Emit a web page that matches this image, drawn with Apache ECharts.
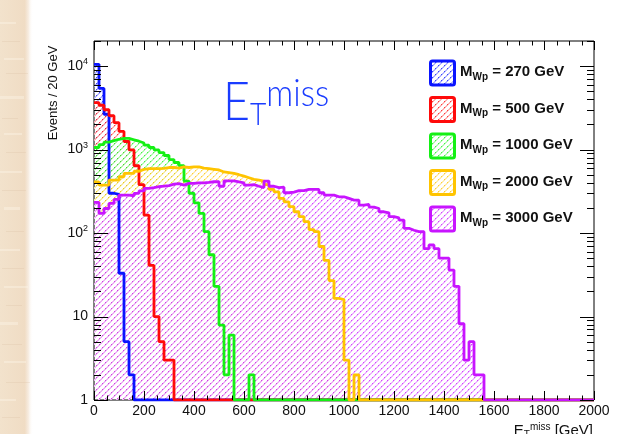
<!DOCTYPE html>
<html>
<head>
<meta charset="utf-8">
<script src="https://cdn.jsdelivr.net/npm/echarts@6/dist/echarts.min.js"></script>
<style>
html, body { margin: 0; padding: 0; background: #fff; }
#chart { width: 643px; height: 434px; }
</style>
</head>
<body>
<div id="chart"></div>
<script>
// Missing transverse energy spectra for several W' masses, 20 GeV bins from 0 GeV.
// Bins past the end of each list are empty.
const binWidth = 20;
const xMax = 2000;
const massLabels = ['270', '500', '1000', '2000', '3000'];
const lineColors = ['#0a14ff', '#ff0a0a', '#14f014', '#ffc400', '#c814ff'];

const histM270 = [10500, 5400, 2650, 300, 290, 33, 5, 2];
const histM500 = [3650, 3400, 3000, 2550, 2100, 1650, 1250, 990, 640, 380, 164, 41, 10, 5, 3, 3];
const histM1000 = [1060, 1150, 1230, 1280, 1330, 1360, 1360, 1310, 1260, 1200,
                   1130, 1060, 990, 920, 850, 760, 700, 640, 420, 300,
                   230, 172, 104, 55, 23, 7.9, 2, 6, 0, 0,
                   0, 2];
const histM2000 = [410, 376, 376, 431, 431, 473, 518, 518, 550, 580,
                   590, 590, 590, 595, 610, 610, 600, 620, 610, 620,
                   620, 600, 590, 580, 570, 540, 530, 520, 500, 480,
                   460, 440, 430, 420, 380, 333, 312, 260, 237, 207,
                   180, 157, 137, 110, 104, 69, 47, 27, 16.5, 16,
                   3, 0, 2];
const histM3000 = [233, 172, 197, 227, 253, 285, 285, 280, 299, 320,
                   343, 350, 360, 365, 370, 385, 390, 376, 394, 394,
                   400, 400, 405, 412, 412, 364, 422, 422, 410, 400,
                   376, 380, 364, 351, 420, 364, 350, 355, 304, 310,
                   322, 322, 333, 333, 333, 304, 285, 285, 272, 272,
                   260, 248, 248, 216, 220, 205, 197, 180, 175, 157,
                   152, 143, 114, 108, 104, 104, 65, 72, 65, 50,
                   50, 36, 23, 8.2, 3, 5, 2, 2];

const histograms = [histM270, histM500, histM1000, histM2000, histM3000];

const yMin = 1;
const yMax = 20000;
const xTickMajor = 200;
const xTickMinor = 50;

// Diagonal dotted hatch tile ("/" stripes): light stripe pixels with full-colour dots.
// Every histogram uses the same stripe positions, so the last one drawn shows on top.
function hexToRgb(hex) {
  const n = parseInt(hex.slice(1), 16);
  return [(n >> 16) & 255, (n >> 8) & 255, n & 255];
}
function tint(rgb, f) {
  return rgb.map(v => Math.round(255 - (255 - v) * f));
}
function hatchTile(color) {
  const N = 6;
  const c = document.createElement('canvas');
  c.width = N; c.height = N;
  const g = c.getContext('2d');
  const img = g.createImageData(N, N);
  const rgb = hexToRgb(color);
  const light = tint(rgb, 0.36);
  const dot = tint(rgb, 0.9);
  for (let y = 0; y < N; y++) {
    for (let x = 0; x < N; x++) {
      const d = (x + y) % N;
      let px = null;
      if (d === N - 1) px = (x % 3 === 0) ? dot : light;
      else if (d === 0) px = light;
      if (px) {
        const o = (y * N + x) * 4;
        img.data[o] = px[0]; img.data[o + 1] = px[1]; img.data[o + 2] = px[2]; img.data[o + 3] = 225;
      }
    }
  }
  g.putImageData(img, 0, 0);
  return { image: c, repeat: 'repeat' };
}

// Step outline points: each bin's left edge, plus the closing point at xMax
function stepPoints(counts) {
  const pts = [];
  const nBins = xMax / binWidth;
  for (let b = 0; b < nBins; b++) {
    const v = b < counts.length ? counts[b] : 0;
    pts.push([b * binWidth, Math.max(v, yMin)]);
  }
  pts.push([xMax, pts[pts.length - 1][1]]);
  return pts;
}

// Hatched fills first, then all outlines above every fill
const fillSeries = histograms.map((counts, i) => ({
  type: 'line',
  name: 'fill' + massLabels[i],
  data: stepPoints(counts),
  step: 'end',
  showSymbol: false,
  symbol: 'none',
  silent: true,
  clip: true,
  lineStyle: { width: 0, opacity: 0 },
  areaStyle: { color: hatchTile(lineColors[i]), origin: 'start', opacity: 1 },
  z: 2 + i
}));
const outlineSeries = histograms.map((counts, i) => ({
  type: 'line',
  name: 'M' + massLabels[i],
  data: stepPoints(counts),
  step: 'end',
  showSymbol: false,
  symbol: 'none',
  silent: true,
  clip: true,
  lineStyle: { color: lineColors[i], width: 2.8 },
  z: 10 + i
}));

// Tick marks drawn inside the frame on all four sides
const yTickValues = [];
for (let k = 0; k <= 4; k++) {
  for (let m = 1; m <= 9; m++) {
    const v = m * Math.pow(10, k);
    if (v <= yMax) yTickValues.push([v, m === 1]);
  }
}
const xTickValues = [];
for (let x = 0; x <= xMax; x += xTickMinor) xTickValues.push([x, x % xTickMajor === 0]);

const tickSeries = {
  type: 'custom',
  silent: true,
  clip: false,
  z: 20,
  data: [[0, 1]],
  renderItem: function (params, api) {
    const children = [];
    const st = { stroke: '#000', lineWidth: 1 };
    const yBottom = api.coord([0, yMin])[1];
    const yTop = api.coord([0, yMax])[1];
    const xLeft = api.coord([0, yMin])[0];
    const xRight = api.coord([xMax, yMin])[0];
    xTickValues.forEach(([x, major]) => {
      const px = Math.round(api.coord([x, yMin])[0]) + 0.5;
      const len = major ? 9 : 4.5;
      children.push({ type: 'line', shape: { x1: px, y1: yBottom, x2: px, y2: yBottom - len }, style: st });
      children.push({ type: 'line', shape: { x1: px, y1: yTop, x2: px, y2: yTop + len }, style: st });
    });
    yTickValues.forEach(([v, major]) => {
      const py = Math.round(api.coord([0, v])[1]) + 0.5;
      const len = major ? 14 : 7;
      children.push({ type: 'line', shape: { x1: xLeft, y1: py, x2: xLeft + len, y2: py }, style: st });
      children.push({ type: 'line', shape: { x1: xRight, y1: py, x2: xRight - len, y2: py }, style: st });
    });
    return { type: 'group', children: children };
  }
};

const chart = echarts.init(document.getElementById('chart'), null, { renderer: 'canvas' });

const legendTop = 61;
const legendStep = 36.5;
const legendGraphics = [];
massLabels.forEach((m, i) => {
  const y = legendTop + i * legendStep;
  legendGraphics.push({
    type: 'rect',
    shape: { x: 430.5, y: y, width: 24, height: 24, r: 2 },
    style: { fill: hatchTile(lineColors[i]), stroke: lineColors[i], lineWidth: 3 },
    z: 30
  });
  legendGraphics.push({
    type: 'text',
    x: 460, y: y + 11,
    style: {
      text: '{a|M}{b|Wp}{a| = ' + m + ' GeV}',
      verticalAlign: 'middle',
      rich: {
        a: { fontSize: 15, fontWeight: 'bold', fontFamily: 'Liberation Sans', fill: '#111', lineHeight: 20 },
        b: { fontSize: 10, fontWeight: 'bold', fontFamily: 'Liberation Sans', fill: '#111', lineHeight: 11, verticalAlign: 'bottom' }
      }
    },
    z: 30
  });
});

// Paper strip along the left margin
const paperStreaks = [
  [22, 2, 0], [41, 1, 1], [58, 2, 0], [73, 1, 1], [96, 3, 0], [118, 1, 1], [133, 2, 0],
  [152, 1, 1], [171, 2, 0], [190, 1, 1], [207, 3, 0], [231, 1, 1], [249, 2, 0], [268, 1, 1],
  [286, 2, 0], [305, 1, 1], [322, 3, 0], [344, 1, 1], [361, 2, 0], [382, 1, 1], [399, 2, 0], [417, 1, 1]
];
const paperGraphics = [
  {
    type: 'rect', shape: { x: 0, y: 0, width: 33, height: 434 },
    style: {
      fill: new echarts.graphic.LinearGradient(0, 0, 1, 0, [
        { offset: 0, color: '#f2e2cc' }, { offset: 0.75, color: '#f0dcc4' }, { offset: 0.86, color: '#f7ece0' }, { offset: 1, color: 'rgba(255,255,255,0)' }
      ])
    }, z: 0
  }
].concat(paperStreaks.map(([y, h, dark], k) => ({
  type: 'rect', shape: { x: (k % 4) * 2, y: y, width: 16 + (k % 5) * 2, height: h },
  style: { fill: dark ? 'rgba(214,188,158,0.25)' : 'rgba(255,248,238,0.35)' }, z: 0
})));

chart.setOption({
  animation: false,
  backgroundColor: '#fff',
  grid: { left: 94, right: 49, top: 41, bottom: 34, show: true, borderColor: '#000', borderWidth: 1, backgroundColor: 'transparent' },
  xAxis: {
    type: 'value', min: 0, max: xMax, interval: xTickMajor,
    axisLine: { show: false }, axisTick: { show: false }, splitLine: { show: false },
    axisLabel: { color: '#111', fontSize: 14, fontFamily: 'Liberation Sans', margin: 4, showMaxLabel: true,
      formatter: function (v) { return String(v); } }
  },
  yAxis: {
    type: 'log', logBase: 10, min: yMin, max: yMax,
    axisLine: { show: false }, axisTick: { show: false }, splitLine: { show: false },
    axisLabel: {
      color: '#111', fontSize: 14, fontFamily: 'Liberation Sans', margin: 6, showMaxLabel: false,
      formatter: function (v) {
        const e = Math.round(Math.log10(v));
        if (Math.abs(v - Math.pow(10, e)) > 1e-6 * v) return '';
        if (e === 0) return '1';
        if (e === 1) return '10';
        return '{n|10}{s|' + e + '}';
      },
      rich: {
        n: { fontSize: 14, fontFamily: 'Liberation Sans', color: '#111', lineHeight: 18 },
        s: { fontSize: 9, fontFamily: 'Liberation Sans', color: '#111', lineHeight: 10, verticalAlign: 'top' }
      }
    }
  },
  series: fillSeries.concat(outlineSeries).concat([tickSeries]),
  graphic: paperGraphics.concat(legendGraphics).concat([
    {
      type: 'text', x: 223, y: 103, scaleX: 0.88,
      style: {
        text: '{e|E}{t|T}{m|miss}',
        verticalAlign: 'middle',
        rich: {
          e: { fontSize: 53, fontFamily: 'Lato', fontWeight: 300, fill: '#1a3cff', lineHeight: 56 },
          t: { fontSize: 32, fontFamily: 'Lato', fontWeight: 300, fill: '#1a3cff', lineHeight: 22, verticalAlign: 'bottom' },
          m: { fontSize: 38, fontFamily: 'Lato', fontWeight: 300, fill: '#1a3cff', lineHeight: 32, verticalAlign: 'top' }
        }
      }, z: 30
    },
    {
      type: 'text', x: 53, y: 93, rotation: Math.PI / 2,
      style: { text: 'Events / 20 GeV', fontSize: 13, fontFamily: 'Liberation Sans', fill: '#111', align: 'center', verticalAlign: 'middle' },
      z: 30
    },
    {
      type: 'text', x: 593, y: 431,
      style: {
        text: '{e|E}{t|T}{m|miss}{e| [GeV]}',
        align: 'right', verticalAlign: 'middle',
        rich: {
          e: { fontSize: 15, fontFamily: 'Liberation Sans', fill: '#111', lineHeight: 18 },
          t: { fontSize: 10, fontFamily: 'Liberation Sans', fill: '#111', lineHeight: 8, verticalAlign: 'bottom' },
          m: { fontSize: 10, fontFamily: 'Liberation Sans', fill: '#111', lineHeight: 8, verticalAlign: 'top' }
        }
      }, z: 30
    }
  ])
});
</script>
</body>
</html>
